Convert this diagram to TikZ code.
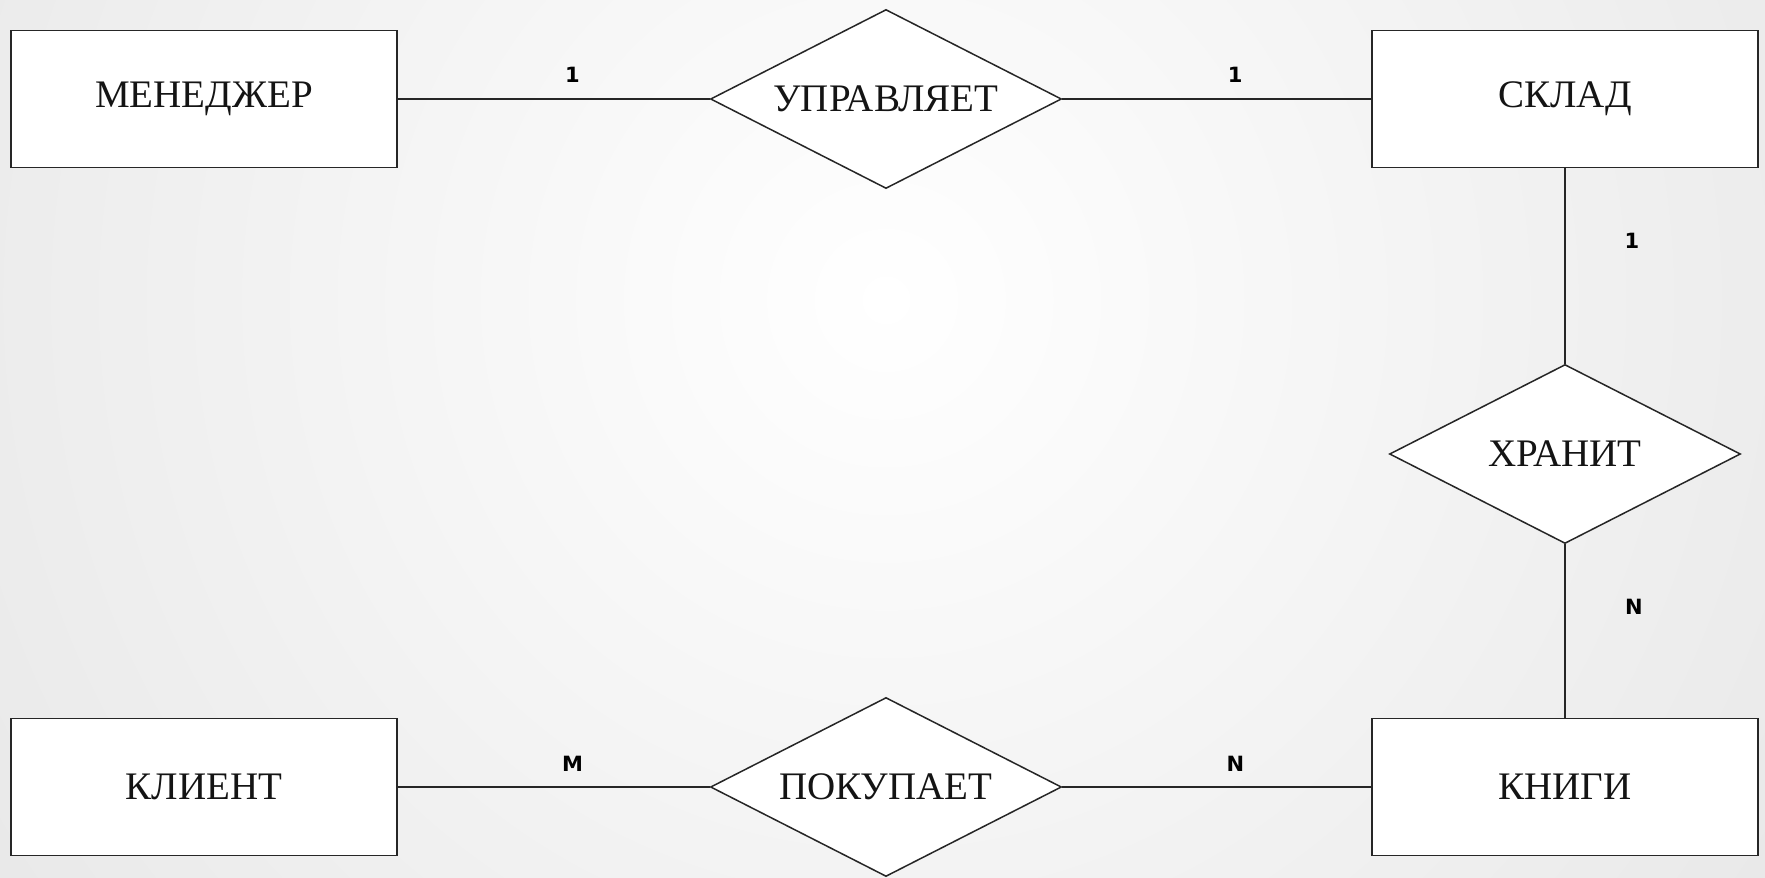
\documentclass[tikz,border=0pt]{standalone}
\usepackage{fontspec}
\setmainfont{Liberation Serif}
\newfontfamily\cardfont{DejaVu Sans}
\usetikzlibrary{shapes.geometric}
\definecolor{inkc}{HTML}{262626}
\definecolor{textc}{HTML}{141414}
\definecolor{bgedge}{HTML}{E9E9E9}
\tikzset{
  entity/.style={draw=inkc, line width=1.5pt, fill=white, minimum width=386pt,
    minimum height=137pt, inner sep=0pt, font=\fontsize{39}{42}\selectfont, text=textc},
  relation/.style={draw=inkc, line width=1.5pt, fill=white, shape=diamond,
    shape aspect=1.96, minimum width=351pt, minimum height=179pt, inner sep=0pt,
    font=\fontsize{39}{42}\selectfont, text=textc},
  link/.style={draw=inkc, line width=1.5pt},
  card/.style={font=\cardfont\bfseries\fontsize{21}{23}\selectfont, text=black, inner sep=0pt}
}
\begin{document}
\begin{tikzpicture}[x=1pt, y=-1pt]
  % canvas with soft radial backdrop
  \useasboundingbox (0,0) rectangle (1765,878);
  \begin{scope}
    \clip (0,0) rectangle (1765,878);
    \fill[bgedge] (0,0) rectangle (1765,878);
    \shade[inner color=white, outer color=bgedge] (886,300) circle (1050pt);
  \end{scope}

  % entities
  \node[entity] (mgr)  at (204,99)  {МЕНЕДЖЕР};
  \node[entity] (wh)   at (1565,99) {СКЛАД};
  \node[entity] (cli)  at (204,787) {КЛИЕНТ};
  \node[entity] (book) at (1565,787) {КНИГИ};

  % relationships
  \node[relation] (manage) at (886,99)   {УПРАВЛЯЕТ};
  \node[relation] (store)  at (1565,454) {ХРАНИТ};
  \node[relation] (buy)    at (886,787)  {ПОКУПАЕТ};

  % connectors with cardinalities
  \draw[link] (mgr.east) -- node[card, pos=0.56, yshift=24pt] {1} (manage.west);
  \draw[link] (manage.east) -- node[card, pos=0.56, yshift=24pt] {1} (wh.west);
  \draw[link] (wh.south) -- node[card, pos=0.37, xshift=67pt] {1} (store.north);
  \draw[link] (store.south) -- node[card, pos=0.36, xshift=69pt] {N} (book.north);
  \draw[link] (cli.east) -- node[card, pos=0.56, yshift=23pt] {M} (buy.west);
  \draw[link] (buy.east) -- node[card, pos=0.56, yshift=23pt] {N} (book.west);
\end{tikzpicture}
\end{document}
